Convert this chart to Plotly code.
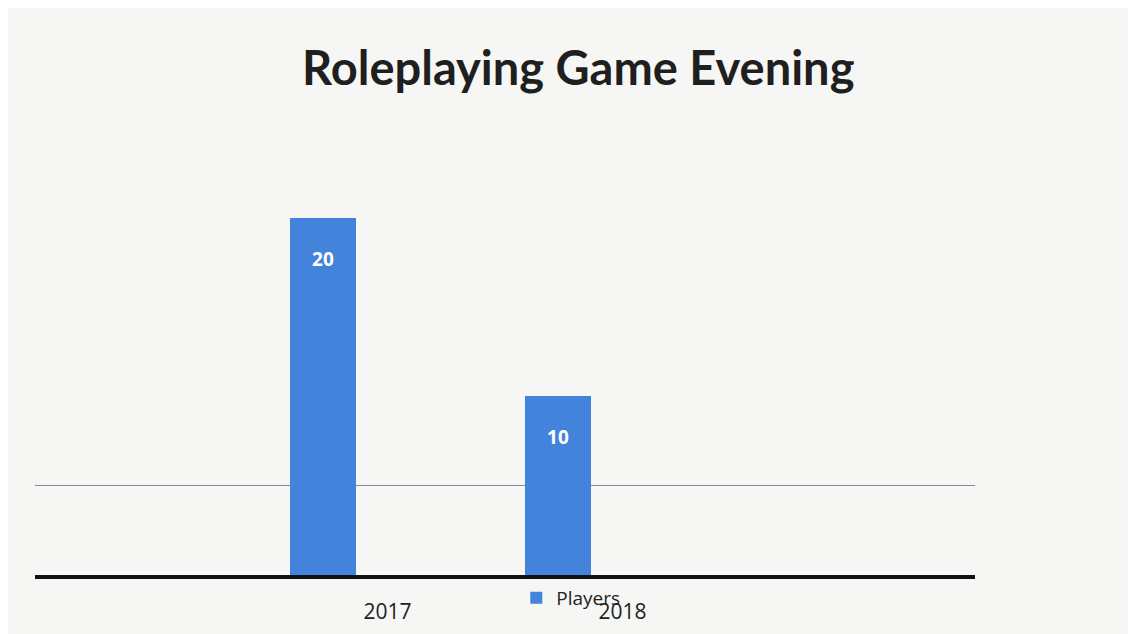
import plotly.graph_objects as go

years = ["2017", "2018"]
players = [20, 10]
series_name = "Players"
title_text = "Roleplaying Game Evening"

fig = go.Figure()
fig.add_trace(go.Bar(
    x=years, y=players, name=series_name,
    marker=dict(color="#4383dc", line=dict(width=0)),
    width=0.277, offset=-0.413,
    texttemplate="\u00a0<br><b>%{y}</b>", textposition="inside", insidetextanchor="end",
    textfont=dict(family="Open Sans", size=19, color="white"),
    textangle=0,
    showlegend=True,
))

fig.update_layout(
    width=1136, height=634,
    paper_bgcolor="#f6f7f4", plot_bgcolor="#f6f7f4",
    margin=dict(l=27, r=169, t=174, b=67),
    title=dict(text="<b>" + title_text + "</b>", x=0.502, xanchor="center",
               y=0.905, yanchor="middle",
               font=dict(family="Lato", size=47, color="#1f1f1f")),
    xaxis=dict(type="category", range=[-1.5, 2.5], showgrid=False,
               showline=True, linecolor="#111111", linewidth=4,
               ticks="", tickfont=dict(family="Open Sans", size=21, color="#222222"),
               ticklabelstandoff=15, zeroline=False),
    yaxis=dict(range=[0, 22], tickvals=[5], showticklabels=False,
               showgrid=True, gridcolor="#8a8a8a", gridwidth=1, zeroline=False,
               showline=False),
    legend=dict(orientation="h", x=0.512, xanchor="left", y=-0.058, yanchor="middle",
                bgcolor="rgba(0,0,0,0)",
                font=dict(family="Open Sans", size=19, color="#222222"),
                itemwidth=30),
    bargap=0,
)

fig.write_html("out.html")
